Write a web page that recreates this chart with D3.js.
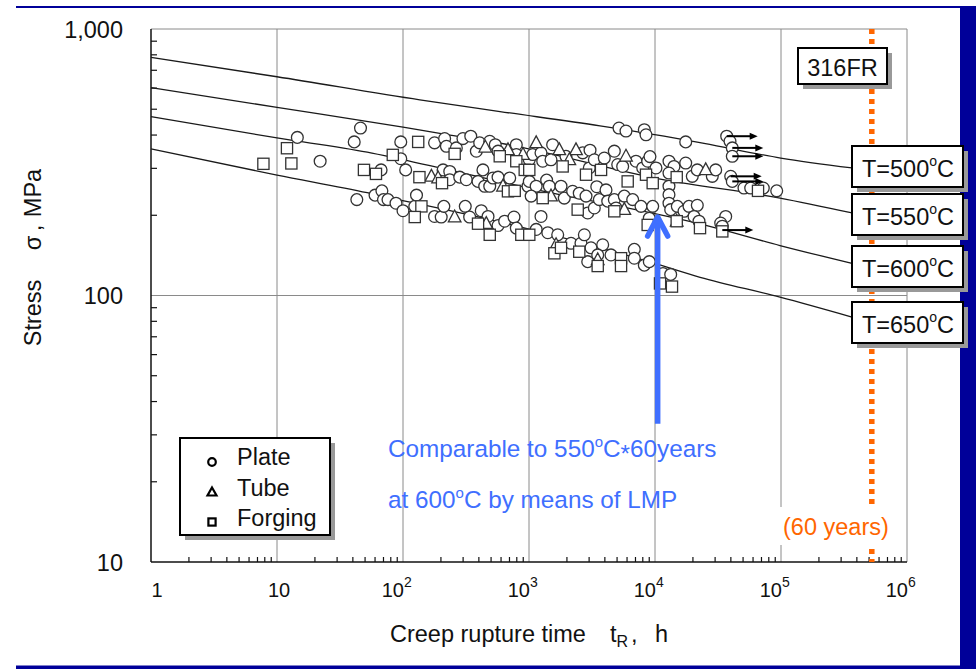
<!DOCTYPE html>
<html><head><meta charset="utf-8">
<script src="https://cdn.jsdelivr.net/npm/d3@7"></script>
<style>
html,body{margin:0;padding:0;background:#fff;}
svg{display:block;font-family:"Liberation Sans",Arial,sans-serif;}
</style></head><body>
<svg id="c" width="976" height="669"></svg>
<script>
// ---------- data (t in hours, stress in MPa) ----------
const plate = [
[14.5,392],[22,319],[41,377],[46,425],[43,229],[60,238],[67,296],[68,247],[70,229],[76,229],[88,222],[96,377],[96,326],[100,208],[105,296],[124,216],[128,238],
[178,374],[214,388],[221,363],[265,358],[299,388],[345,396],[382,348],[406,374],[488,379],[540,368],[568,348],[793,368],[793,338],
[208,296],[235,292],[235,272],[282,278],[318,272],[394,268],[431,296],[445,257],[488,257],[518,276],[568,278],[703,276],[982,257],
[178,198],[201,197],[211,216],[312,216],[338,197],[418,208],[473,198],[568,183],[641,190],[760,197],[793,179],
[5180,425],[5885,414],[8225,419],[8485,401],[17530,377],[37070,396],[39380,379],[41070,358],[41070,333],
[1005,323],[1070,338],[1245,343],[1285,319],[1540,368],[1495,323],[1965,333],[2670,343],[3010,301],[3050,351],[3300,323],[3960,328],[4755,348],[5060,310],[5540,305],[7065,319],[7990,301],[8750,319],[9120,332],[10180,301],
[1005,268],[1140,257],[1040,236],[1380,271],[1450,257],[1795,257],[1905,232],[2220,246],[2505,242],[2835,236],[2925,204],[3300,213],[3450,256],[3615,229],[4085,249],[4215,226],[4755,229],[4905,213],[5705,236],[6650,229],[7745,216],[9010,195],[9590,216],
[1245,198],[1140,177],[1410,172],[1690,169],[2155,157],[2585,157],[2750,169],[3105,151],[3845,155],[3510,142],[2925,134],[4475,142],[6850,149],[6850,138],[8225,130],[9010,134],[11570,121],[13320,120],
[12910,319],[14150,305],[12910,288],[17530,314],[19770,280],[21660,296],[28500,280],[30320,296],[39890,280],[41070,268],[50850,253],[57480,253],[72360,253],[92450,247],
[12910,257],[12910,239],[12910,222],[13320,210],
[15030,216],[16990,207],[18610,216],[21660,218],[20400,198],[22350,190],[36400,198],[33220,187],[34210,182]
];
const tube = [[450,360],[681,352],[896,338],[168,280],[190,276],[622,257],[257,197],[458,186],[1140,374],[1740,352],[2360,352],[2090,323],[5885,333],[1495,236],[5705,210],[1640,155],[3510,136],[25260,296],[14870,190]];
const forging = [[7.8,312],[12,357],[13,313],[49,296],[61,286],[83,337],[132,377],[257,340],[586,333],[793,319],[925,296],[135,278],[204,264],[681,246],[770,247],[140,216],[124,197],[394,186],[488,169],[869,169],[1850,305],[2835,284],[3730,296],[6070,268],[8485,284],[9590,264],[1005,296],[1285,232],[2435,210],[4755,207],[8750,184],[1005,169],[1590,144],[1795,151],[2505,146],[3510,129],[5375,138],[5375,129],[10960,111],[13640,108],[14870,278],[65700,247],[14870,190],[22760,179],[34210,174]];
const runout = [[37070,396],[41070,358],[41070,333],[39890,280],[41070,268],[34210,176]];

const curve500 = [[1,782],[10,662],[136,542],[589,490],[3660,433],[11800,396],[24500,372],[99500,328],[366000,301]];
const curve550 = [[1,603],[10,508],[100,428],[236,400],[589,373],[11600,272],[98200,232],[366000,204]];
const curve600 = [[1,469],[10,390],[52,345],[95,325],[1000,253],[24500,184],[98200,154],[366000,132]];
const curve650 = [[1,355],[10,283],[52,243],[95,228],[200,212],[9640,132.5],[22800,117],[98200,98.6],[366000,83]];
const curves = [curve500, curve550, curve600, curve650];
const tempLabels = ["500","550","600","650"];

const xTicks = [1,10,100,1e3,1e4,1e5,1e6];
const yTicks = [10,100,1000];
const yTickLabels = ["10","100","1,000"];
const legendItems = ["Plate","Tube","Forging"];
const sixtyYears = 60*8760; // h
const lmpT = 10500, lmpFrom = 33, lmpTo = 197;

// ---------- drawing ----------
const svg = d3.select("#c");
const x = d3.scaleLog().domain([1,1e6]).range([151,907]);
const y = d3.scaleLog().domain([10,1000]).range([562,29]);
const FS = 23.5;

// page frame
svg.append("rect").attr("x",0).attr("y",0).attr("width",976).attr("height",669).attr("fill","#fff");
svg.append("rect").attr("x",16).attr("y",6).attr("width",950).attr("height",2).attr("fill","#000099");
svg.append("rect").attr("x",960).attr("y",6).attr("width",16).attr("height",663).attr("fill","#000099");
svg.append("rect").attr("x",16).attr("y",665.5).attr("width",960).attr("height",3.5).attr("fill","#000099");

const g = svg.append("g");
// grid
[10,100,1e3,1e4,1e5,1e6].forEach(v=>{
  g.append("line").attr("x1",x(v)).attr("x2",x(v)).attr("y1",y(1000)).attr("y2",y(10)).attr("stroke","#8a8a8a").attr("stroke-width",1);
});
[100,1000].forEach(v=>{
  g.append("line").attr("x1",x(1)).attr("x2",x(1e6)).attr("y1",y(v)).attr("y2",y(v)).attr("stroke","#8a8a8a").attr("stroke-width",1);
});
// axes
g.append("line").attr("x1",x(1)).attr("x2",x(1)).attr("y1",y(1000)).attr("y2",y(10)).attr("stroke","#111").attr("stroke-width",1.5);
g.append("line").attr("x1",x(1)).attr("x2",x(1e6)).attr("y1",y(10)).attr("y2",y(10)).attr("stroke","#111").attr("stroke-width",1.5);
// minor ticks
for (let d=1; d<1e6; d*=10) for (let k=2;k<=9;k++){
  g.append("line").attr("x1",x(k*d)).attr("x2",x(k*d)).attr("y1",y(10)).attr("y2",y(10)-5).attr("stroke","#111").attr("stroke-width",1.2);
}
for (let d=10; d<1000; d*=10) for (let k=2;k<=9;k++){
  g.append("line").attr("x1",x(1)).attr("x2",x(1)+6).attr("y1",y(k*d)).attr("y2",y(k*d)).attr("stroke","#111").attr("stroke-width",1.2);
}

// tick labels
xTicks.forEach((v,i)=>{
  const e = Math.round(Math.log10(v));
  if (e===0){
    g.append("text").attr("x",x(v)+6).attr("y",597).attr("text-anchor","middle").attr("font-size",20).attr("fill","#111").text("1");
  } else if (e===1){
    g.append("text").attr("x",x(v)+2).attr("y",597).attr("text-anchor","middle").attr("font-size",20).attr("fill","#111").text("10");
  } else {
    g.append("text").attr("x",x(v)+1).attr("y",597).attr("text-anchor","end").attr("font-size",20).attr("fill","#111").text("10");
    g.append("text").attr("x",x(v)+1).attr("y",587).attr("font-size",14).attr("fill","#111").text(String(e));
  }
});
yTicks.forEach((v,i)=>{
  g.append("text").attr("x",123).attr("y",y(v)+8.5).attr("text-anchor","end").attr("font-size",FS).attr("fill","#111").text(yTickLabels[i]);
});

// axis titles
const xt = g.append("text").attr("y",642).attr("font-size",FS).attr("fill","#111");
xt.append("tspan").attr("x",390).text("Creep rupture time");
xt.append("tspan").attr("x",610).text("t");
xt.append("tspan").attr("font-size",16).attr("dy",5).text("R");
xt.append("tspan").attr("x",631).attr("dy",-5).text(",");
xt.append("tspan").attr("x",655).text("h");
[["Stress",313],["\u03c3",243],[",",228],["MPa",193]].forEach(([s,yc])=>{
  g.append("text").attr("transform",`translate(41,${yc}) rotate(-90)`).attr("text-anchor","middle").attr("font-size",FS).attr("fill","#111").text(s);
});

// master curves
const line = d3.line().x(d=>x(d[0])).y(d=>y(d[1])).curve(d3.curveMonotoneX);
curves.forEach(c=>{
  g.append("path").attr("d",line(c)).attr("fill","none").attr("stroke","#1a1a1a").attr("stroke-width",1.3);
});

// 60 years line
g.append("line").attr("x1",x(sixtyYears)).attr("x2",x(sixtyYears)).attr("y1",y(1000)).attr("y2",y(10))
  .attr("stroke","#ff6600").attr("stroke-width",5.5).attr("stroke-dasharray","5,5");

// markers
const mk = {stroke:"#333", sw:1.3};
g.append("g").selectAll("circle").data(plate).join("circle")
  .attr("cx",d=>x(d[0])).attr("cy",d=>y(d[1])).attr("r",5.9)
  .attr("fill","#fff").attr("stroke",mk.stroke).attr("stroke-width",mk.sw);
g.append("g").selectAll("path").data(tube).join("path")
  .attr("transform",d=>`translate(${x(d[0])},${y(d[1])})`).attr("d","M0,-7L6.3,4.8L-6.3,4.8Z")
  .attr("fill","#fff").attr("stroke",mk.stroke).attr("stroke-width",mk.sw);
g.append("g").selectAll("rect").data(forging).join("rect")
  .attr("x",d=>x(d[0])-5.6).attr("y",d=>y(d[1])-5.6).attr("width",11.2).attr("height",11.2)
  .attr("fill","#fff").attr("stroke",mk.stroke).attr("stroke-width",mk.sw);

// runout arrows
runout.forEach(d=>{
  const x0=x(d[0]), y0=y(d[1]);
  g.append("line").attr("x1",x0).attr("x2",x0+25).attr("y1",y0).attr("y2",y0).attr("stroke","#000").attr("stroke-width",2);
  g.append("path").attr("d",`M${x0+31},${y0}L${x0+23},${y0-3.5}L${x0+23},${y0+3.5}Z`).attr("fill","#000");
});

// LMP arrow
const ax = x(lmpT);
g.append("line").attr("x1",ax).attr("x2",ax).attr("y1",y(lmpFrom)).attr("y2",y(lmpTo)+2).attr("stroke","#3f6fff").attr("stroke-width",5.5);
g.append("path").attr("d",`M${ax-10},${y(lmpTo)+19}L${ax},${y(lmpTo)}L${ax+10},${y(lmpTo)+19}`)
  .attr("fill","none").attr("stroke","#3f6fff").attr("stroke-width",5.5).attr("stroke-linecap","round").attr("stroke-linejoin","round");

// annotation text
const blue = "#3f6fff";
const AFS = 24.3;
const t1 = g.append("text").attr("x",388).attr("y",457).attr("font-size",AFS).attr("fill",blue);
t1.append("tspan").text("Comparable to 550");
t1.append("tspan").attr("font-size",15).attr("dy",-10).text("o");
t1.append("tspan").attr("dy",10).text("C");
t1.append("tspan").attr("dy",5).text("*");
t1.append("tspan").attr("dy",-5).text("60years");
const t2 = g.append("text").attr("x",388).attr("y",508).attr("font-size",AFS).attr("fill",blue);
t2.append("tspan").text("at 600");
t2.append("tspan").attr("font-size",15).attr("dy",-10).text("o");
t2.append("tspan").attr("dy",10).text("C by means of LMP");

// (60 years)
g.append("rect").attr("x",778).attr("y",507).attr("width",116).attr("height",38).attr("fill","#fff");
g.append("text").attr("x",783).attr("y",535).attr("font-size",FS).attr("fill","#ff6600").text("(60 years)");

// boxes
function box(x0,y0,w,h){
  g.append("rect").attr("x",x0+5).attr("y",y0+5).attr("width",w).attr("height",h).attr("fill","#999");
  g.append("rect").attr("x",x0).attr("y",y0).attr("width",w).attr("height",h).attr("fill","#fff").attr("stroke","#000").attr("stroke-width",2);
}
box(798,48,89,36);
g.append("text").attr("x",842.5).attr("y",76).attr("text-anchor","middle").attr("font-size",FS).attr("fill","#111").text("316FR");
const boxTops = [146,194,246,302];
tempLabels.forEach((s,i)=>{
  box(852,boxTops[i],111,41);
  const t = g.append("text").attr("x",908).attr("y",boxTops[i]+31).attr("text-anchor","middle").attr("font-size",FS).attr("fill","#111");
  t.append("tspan").text("T="+s);
  t.append("tspan").attr("font-size",14).attr("dy",-11).text("o");
  t.append("tspan").attr("dy",11).text("C");
});

// legend
box(180,438,150,97);
legendItems.forEach((s,i)=>{
  const cy = 462+i*30, cx = 212;
  if (i===0) g.append("circle").attr("cx",cx).attr("cy",cy).attr("r",3.8).attr("fill","#fff").attr("stroke","#000").attr("stroke-width",2.2);
  if (i===1) g.append("path").attr("transform",`translate(${cx},${cy})`).attr("d","M0,-4.5L4.5,3.5L-4.5,3.5Z").attr("fill","#fff").attr("stroke","#000").attr("stroke-width",2.2);
  if (i===2) g.append("rect").attr("x",cx-3.6).attr("y",cy-3.6).attr("width",7.2).attr("height",7.2).attr("fill","#fff").attr("stroke","#000").attr("stroke-width",2.2);
  g.append("text").attr("x",237).attr("y",cy+3+i*0.5).attr("font-size",FS).attr("fill","#111").text(s);
});
</script>
</body></html>
